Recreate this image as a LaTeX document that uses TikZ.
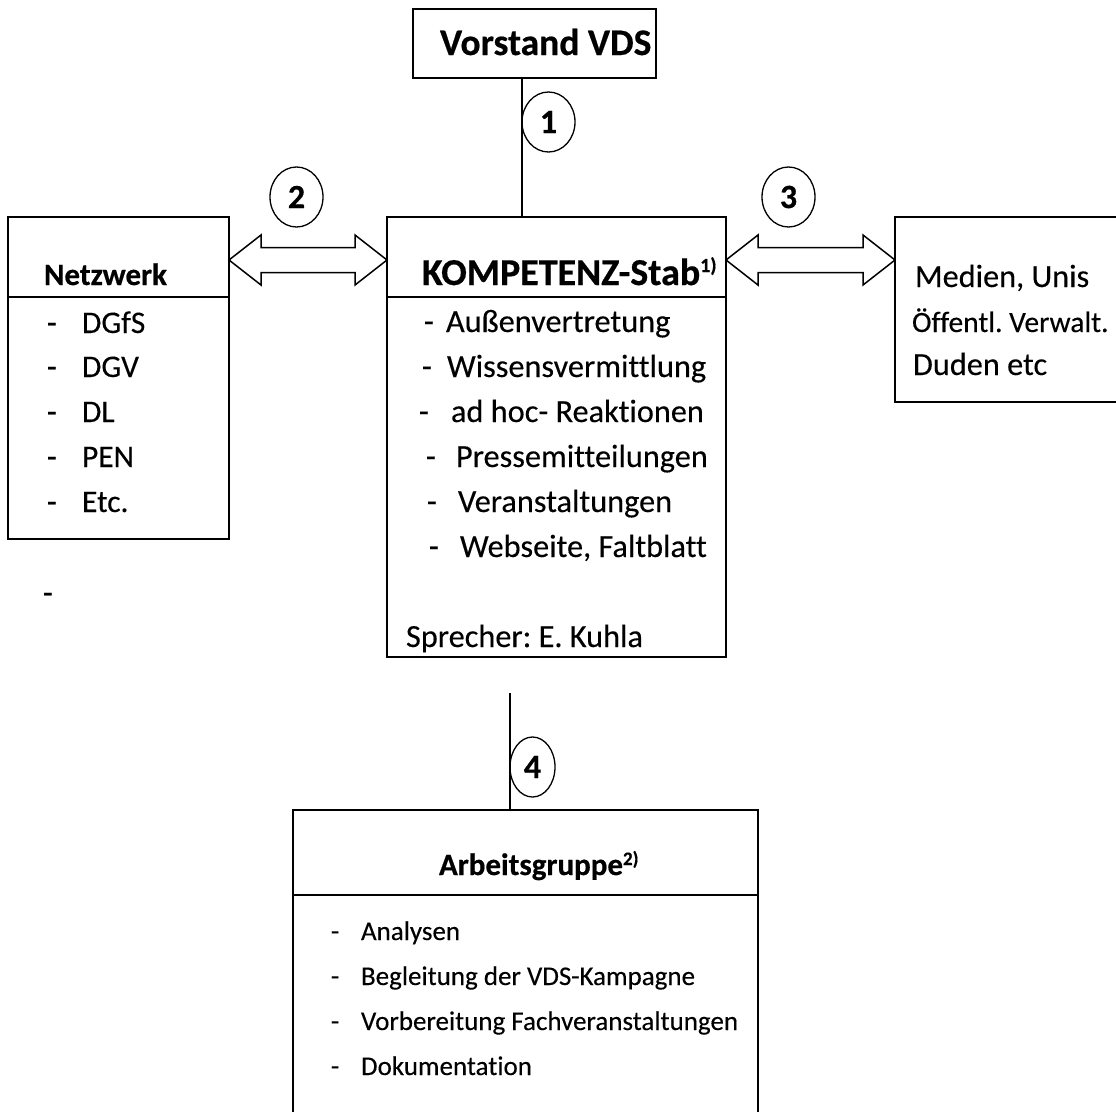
\documentclass[tikz,border=0pt]{standalone}
\usepackage{fontspec}
\setmainfont{Carlito}[Ligatures=NoCommon,UprightFeatures={FakeBold=0.25},BoldFeatures={FakeBold=0.5}]
\usetikzlibrary{shapes.geometric,calc}
\frenchspacing
\newcommand\dblarr[2]{%
 \draw[line width=1.5pt,line join=miter,fill=white] let \p1=(#1),\p2=(#2) in
 (\x1,\y1) -- (\x1+32pt,\y1+25pt) -- (\x1+32pt,\y1+12.5pt) -- (\x2-32pt,\y1+12.5pt)
 -- (\x2-32pt,\y1+25pt) -- (\x2,\y1) -- (\x2-32pt,\y1-25pt) -- (\x2-32pt,\y1-12.5pt)
 -- (\x1+32pt,\y1-12.5pt) -- (\x1+32pt,\y1-25pt) -- cycle;}
\begin{document}
\begin{tikzpicture}[x=1pt,y=-1pt,
 box/.style={draw,line width=1.6pt,inner sep=0pt,outer sep=0pt,rectangle},
 rule/.style={line width=1.6pt},
 conn/.style={line width=1.5pt},
 txt/.style={inner sep=0pt,outer sep=0pt,anchor=base west},
 fR31/.style={font=\fontsize{32.3}{38}\selectfont},
 fR30/.style={font=\fontsize{31.5}{38}\selectfont},
 fR28/.style={font=\fontsize{29.5}{35}\selectfont},
 fR26/.style={font=\fontsize{27}{32}\selectfont},
 fB36/.style={font=\fontsize{37.5}{44}\selectfont\bfseries},
 fB38/.style={font=\fontsize{38}{44}\selectfont\bfseries},
 fB30/.style={font=\fontsize{31}{37}\selectfont\bfseries},
 num/.style={draw,ellipse,line width=1.3pt,inner sep=0pt,minimum width=53pt,minimum height=60pt,font=\fontsize{34}{38}\selectfont\bfseries}]
\useasboundingbox (0,0) rectangle (1116,1111);

% boxes
\node[box,minimum width=243pt,minimum height=69pt] (vor) at (534.5,43.5) {};
\node[box,minimum width=339pt,minimum height=440pt] (komp) at (556.5,437) {};
\node[box,minimum width=221pt,minimum height=322pt] (net) at (118.5,378) {};
\node[box,minimum width=240pt,minimum height=185pt] (medb) at (1015,309.5) {};
\node[box,minimum width=465pt,minimum height=320pt] (arb) at (525.5,970) {};

% header separators
\coordinate (hs) at (0,297);
\coordinate (as) at (0,895);
\draw[rule] (komp.west |- hs) -- (komp.east |- hs);
\draw[rule] (net.west |- hs) -- (net.east |- hs);
\draw[rule] (arb.west |- as) -- (arb.east |- as);

% connectors
\coordinate (c1) at (522,0);
\draw[conn] (vor.south -| c1) -- (komp.north -| c1);
\coordinate (l4top) at (510,693);
\draw[conn] (l4top) -- (arb.north -| l4top);
\coordinate (a2) at (0,260);
\dblarr{net.east |- a2}{komp.west |- a2}
\dblarr{komp.east |- a2}{medb.west |- a2}

% numbers
\node[num] (n1) at (548.5,122) {1};
\node[num] (n2) at (296.5,197) {2};
\node[num] (n3) at (788.5,197) {3};
\node[num,minimum width=45pt] (n4) at (532.5,767) {4};

% texts
\node[txt,fB36] (tvor) at (440,55) {Vorstand VDS};
\node[txt,fB38] (tkomp) at (422,285) {KOMPETENZ-Stab\raisebox{13pt}{\fontsize{20}{22}\selectfont 1)}};
\node[txt,fB30] (tnet) at (44,285) {Netzwerk};
\node[txt,fB30] (tarb) at (439,875) {Arbeitsgruppe\raisebox{10pt}{\fontsize{19}{21}\selectfont 2)}};

% Netzwerk items
\node[txt,fR30] (nd1) at (47,333) {-};
\node[txt,fR30] (ni1) at (82,333) {DGfS};
\node[txt,fR30] (nd2) at (47,377) {-};
\node[txt,fR30] (ni2) at (82,377) {DGV};
\node[txt,fR30] (nd3) at (47,422) {-};
\node[txt,fR30] (ni3) at (82,422) {DL};
\node[txt,fR30] (nd4) at (47,467) {-};
\node[txt,fR30] (ni4) at (82,467) {PEN};
\node[txt,fR30] (nd5) at (47,512) {-};
\node[txt,fR30] (ni5) at (82,512) {Etc.};
\node[txt,fR30] (stray) at (43,603) {-};

% Kompetenz items
\node[txt,fR31] (kd1) at (424,332) {-};
\node[txt,fR31] (ki1) at (446,332) {Außenvertretung};
\node[txt,fR31] (kd2) at (422,377) {-};
\node[txt,fR31] (ki2) at (447,377) {Wissensvermittlung};
\node[txt,fR31] (kd3) at (419,422) {-};
\node[txt,fR31] (ki3) at (451,422) {ad hoc- Reaktionen};
\node[txt,fR31] (kd4) at (426,467) {-};
\node[txt,fR31] (ki4) at (456,467) {Pressemitteilungen};
\node[txt,fR31] (kd5) at (427,512) {-};
\node[txt,fR31] (ki5) at (458,512) {Veranstaltungen};
\node[txt,fR31] (kd6) at (429,557) {-};
\node[txt,fR31] (ki6) at (460,557) {Webseite, Faltblatt};
\node[txt,fR31] (ksp) at (406,647) {Sprecher: E. Kuhla};

% right box
\node[txt,fR31] (m1) at (915,287) {Medien, Unis};
\node[txt,fR28] (m2) at (912,332) {Öffentl. Verwalt.};
\node[txt,fR31] (m3) at (913,375) {Duden etc};

% Arbeitsgruppe items
\node[txt,fR26] (ad1) at (331,940) {-};
\node[txt,fR26] (ai1) at (361,940) {Analysen};
\node[txt,fR26] (ad2) at (331,985) {-};
\node[txt,fR26] (ai2) at (361,985) {Begleitung der VDS-Kampagne};
\node[txt,fR26] (ad3) at (331,1030) {-};
\node[txt,fR26] (ai3) at (361,1030) {Vorbereitung Fachveranstaltungen};
\node[txt,fR26] (ad4) at (331,1075) {-};
\node[txt,fR26] (ai4) at (361,1075) {Dokumentation};
\end{tikzpicture}
\end{document}
